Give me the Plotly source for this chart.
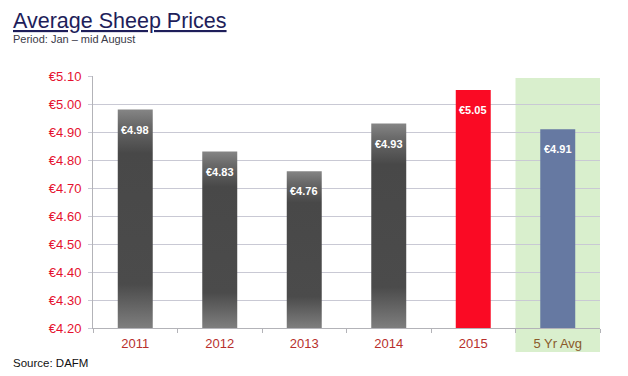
import plotly.graph_objects as go

# ---- data ----
categories = ["2011", "2012", "2013", "2014", "2015", "5 Yr Avg"]
prices = [4.98, 4.83, 4.76, 4.93, 5.05, 4.91]
price_labels = ["€4.98", "€4.83", "€4.76", "€4.93", "€5.05", "€4.91"]
y_ticks = [4.20, 4.30, 4.40, 4.50, 4.60, 4.70, 4.80, 4.90, 5.00, 5.10]
y_tick_labels = ["€4.20", "€4.30", "€4.40", "€4.50", "€4.60", "€4.70", "€4.80", "€4.90", "€5.00", "€5.10"]

# ---- layout geometry (pixels); page body adds an 8px offset ----
OFF = 8
W, H = 628 - OFF, 376 - OFF
ML, MR, MT, MB = 93 - OFF, 28, 76 - OFF, 48
PW, PH = W - ML - MR, H - MT - MB


def px_x(px):
    return (px - OFF - ML) / PW


def px_y(py):
    return (H - MB - (py - OFF)) / PH


bar_w = 0.414
base = y_ticks[0]
gray_scale = [[0.0, "#7e7e7e"], [0.2, "#4b4b4b"], [0.8, "#484848"], [0.93, "#6a6a6a"], [1.0, "#858585"]]

fig = go.Figure()

# gradient grey bars (historic years)
for i in range(4):
    x0, x1 = i - bar_w / 2, i + bar_w / 2
    v = prices[i]
    fig.add_trace(go.Scatter(
        x=[x0, x1, x1, x0, x0], y=[base, base, v, v, base],
        mode="lines", fill="toself", line=dict(width=0),
        fillgradient=dict(type="vertical", colorscale=gray_scale),
        hoverinfo="skip", showlegend=False,
    ))

# 2015 and 5-year average bars
fig.add_trace(go.Bar(
    x=[4, 5], y=prices[4:], width=bar_w,
    marker=dict(color=["#fa0a24", "#6679a2"], line=dict(width=0)),
    hoverinfo="skip", showlegend=False,
))

annotations = []
for i, (v, lab) in enumerate(zip(prices, price_labels)):
    annotations.append(dict(
        x=i, y=v, xref="x", yref="y", text="<b>" + lab + "</b>",
        showarrow=False, yshift=-20, yanchor="middle",
        font=dict(family="Liberation Sans, Arial", size=11, color="white"),
    ))

annotations += [
    dict(x=px_x(11), y=px_y(21), xref="paper", yref="paper", xanchor="left", yanchor="middle",
         text="<u>Average Sheep Prices</u>", showarrow=False,
         font=dict(family="Liberation Sans, Arial", size=21.5, color="#1e1e5a")),
    dict(x=px_x(11), y=px_y(39), xref="paper", yref="paper", xanchor="left", yanchor="middle",
         text="Period: Jan – mid August", showarrow=False,
         font=dict(family="Liberation Sans, Arial", size=11, color="#3a3a48")),
    dict(x=px_x(11), y=px_y(363), xref="paper", yref="paper", xanchor="left", yanchor="middle",
         text="Source: DAFM", showarrow=False,
         font=dict(family="Liberation Sans, Arial", size=11.5, color="#111111")),
]

tick_colors = ["#b8302c"] * 5 + ["#8a5a2a"]
ticktext = ["<span style='color:%s'>%s</span>" % (c, t) for c, t in zip(tick_colors, categories)]

fig.update_layout(
    width=W, height=H,
    margin=dict(l=ML, r=MR, t=MT, b=MB, pad=0),
    paper_bgcolor="white", plot_bgcolor="white",
    font=dict(family="Liberation Sans, Arial", size=13),
    showlegend=False,
    annotations=annotations,
    shapes=[dict(type="rect", xref="x", yref="paper", x0=4.5, x1=5.5,
                 y0=px_y(352), y1=px_y(78), fillcolor="#d9efcd",
                 line=dict(width=0), layer="below")],
    xaxis=dict(
        range=[-0.5, 5.5], tickvals=list(range(len(categories))), ticktext=ticktext,
        ticks="", showgrid=False, zeroline=False,
        showline=True, linecolor="#b3b3b8", linewidth=1,
        tickfont=dict(size=13, color="#b8302c"), ticklabelstandoff=3,
        minor=dict(tickvals=[i - 0.5 for i in range(len(categories) + 1)],
                   ticks="outside", ticklen=4, tickcolor="#b3b3b8", showgrid=False),
    ),
    yaxis=dict(
        range=[y_ticks[0], y_ticks[-1]], tickvals=y_ticks, ticktext=y_tick_labels,
        showgrid=True, gridcolor="#c9c9d4", gridwidth=1, zeroline=False,
        showline=True, linecolor="#b3b3b8", linewidth=1,
        ticks="outside", ticklen=4, tickcolor="#c9c9d4",
        tickfont=dict(size=13, color="#e5112f"), ticklabelstandoff=4,
    ),
)

fig.write_html("out.html")
